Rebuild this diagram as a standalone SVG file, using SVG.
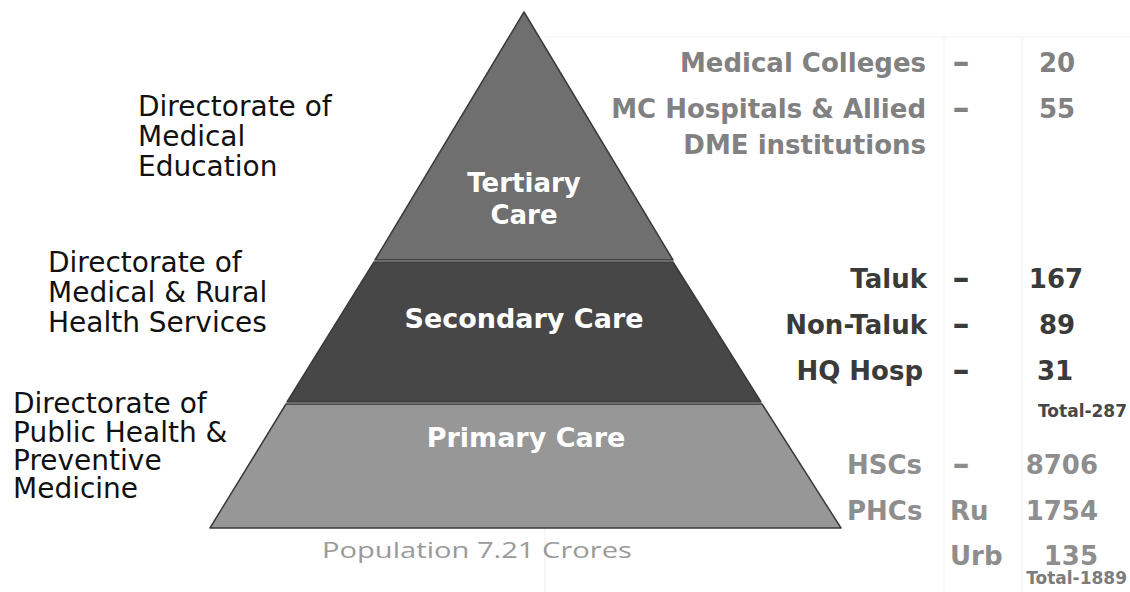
<svg xmlns="http://www.w3.org/2000/svg" width="1130" height="592" viewBox="0 0 1130 592">
<style>
.bg{fill:#ffffff}
.faint{stroke:#f5f5f5;stroke-width:1.5;fill:none}
.band{stroke:#3a3a3a;stroke-width:1.5;stroke-linejoin:round}
.plab{font-family:"DejaVu Sans",sans-serif;font-weight:bold;fill:#ffffff;text-anchor:middle}
.dir{font-family:"DejaVu Sans",sans-serif;font-size:28px;fill:#111111}
.rt{font-family:"DejaVu Sans",sans-serif;font-weight:bold;font-size:26px}
.dash{font-size:34px;text-anchor:middle}
.t3{fill:#818181}
.t2{fill:#3a3a3a}
.t1{fill:#8e8e8e}
.end{text-anchor:end}
.mid{text-anchor:middle}
.tot{font-family:"DejaVu Sans",sans-serif;font-weight:bold;font-size:17px}
.pop{font-family:"Open Sans","Liberation Sans",sans-serif;font-size:21px;fill:#9a9a9a}
</style>
<rect class="bg" x="0" y="0" width="1130" height="592"/>
<g id="table-bg">
<line class="faint" x1="545" y1="37" x2="1130" y2="37"/>
<line class="faint" x1="944" y1="37" x2="944" y2="592"/>
<line class="faint" x1="1022" y1="37" x2="1022" y2="592"/>
<line class="faint" x1="545" y1="528" x2="545" y2="592"/>
</g>
<g id="pyramid">
<g id="tertiary">
<polygon class="band" points="524,12 375,260 673,260" fill="#6f6f6f"/>
<text class="plab" x="524" y="192" font-size="26">Tertiary</text>
<text class="plab" x="524" y="224" font-size="26">Care</text>
</g>
<g id="secondary">
<polygon class="band" points="374,262 673,262 761,402 287,402" fill="#474747"/>
<text class="plab" x="524" y="328" font-size="27">Secondary Care</text>
</g>
<g id="primary">
<polygon class="band" points="286,404 762,404 841,528 210,528" fill="#979797"/>
<text class="plab" x="526" y="447" font-size="27">Primary Care</text>
</g>
</g>
<g id="directorates">
<g id="dme">
<text class="dir" x="138" y="116">Directorate of</text>
<text class="dir" x="138" y="146">Medical</text>
<text class="dir" x="138" y="176">Education</text>
</g>
<g id="dmrhs">
<text class="dir" x="48" y="272">Directorate of</text>
<text class="dir" x="48" y="302">Medical &amp; Rural</text>
<text class="dir" x="48" y="332">Health Services</text>
</g>
<g id="dphpm">
<text class="dir" x="13" y="413">Directorate of</text>
<text class="dir" x="13" y="442">Public Health &amp;</text>
<text class="dir" x="13" y="470">Preventive</text>
<text class="dir" x="13" y="498">Medicine</text>
</g>
</g>
<g id="tertiary-stats" class="rt t3">
<text class="end" x="926" y="72">Medical Colleges</text>
<text class="dash" x="961" y="73">–</text>
<text class="mid" x="1057" y="72">20</text>
<text class="end" x="926" y="118">MC Hospitals &amp; Allied</text>
<text class="dash" x="961" y="119">–</text>
<text class="mid" x="1057" y="118">55</text>
<text class="end" x="926" y="154">DME institutions</text>
</g>
<g id="secondary-stats" class="rt t2">
<text class="end" x="927" y="288">Taluk</text>
<text class="dash" x="961" y="289">–</text>
<text class="mid" x="1056" y="288">167</text>
<text class="end" x="927" y="334">Non-Taluk</text>
<text class="dash" x="961" y="335">–</text>
<text class="mid" x="1057" y="334">89</text>
<text class="end" x="923" y="380">HQ Hosp</text>
<text class="dash" x="961" y="381">–</text>
<text class="mid" x="1055" y="380">31</text>
<text class="tot end" x="1127" y="417" fill="#474747">Total-287</text>
</g>
<g id="primary-stats" class="rt t1">
<text x="847" y="474">HSCs</text>
<text class="dash" x="961" y="475">–</text>
<text class="end" x="1098" y="474">8706</text>
<text x="847" y="520">PHCs</text>
<text x="950" y="520">Ru</text>
<text class="end" x="1098" y="520">1754</text>
<text x="950" y="565">Urb</text>
<text class="end" x="1098" y="565">135</text>
<text class="tot end" x="1127" y="584" fill="#7c7c7c">Total-1889</text>
</g>
<g id="population">
<text class="pop" x="322" y="558" textLength="310" lengthAdjust="spacingAndGlyphs">Population 7.21 Crores</text>
</g>
</svg>
